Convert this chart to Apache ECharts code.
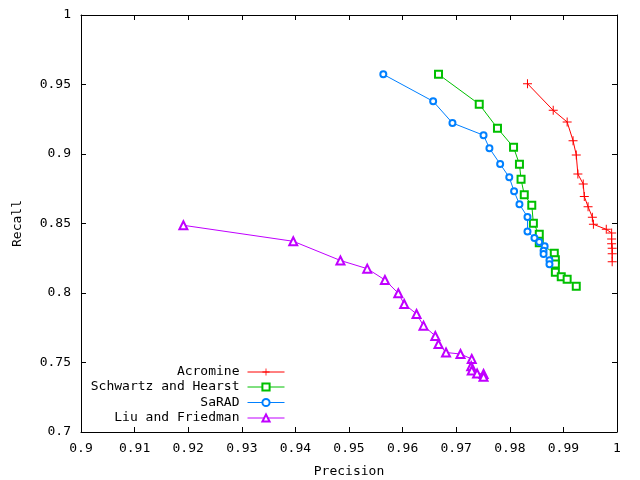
<!DOCTYPE html>
<html>
<head>
<meta charset="utf-8">
<script src="https://cdn.jsdelivr.net/npm/echarts@6/dist/echarts.min.js"></script>
<style>html,body{margin:0;padding:0;background:#fff}#c{width:640px;height:480px}</style>
</head>
<body>
<div id="c"></div>
<script>
const seriesNames = ['Acromine', 'Schwartz and Hearst', 'SaRAD', 'Liu and Friedman'];

const acromineP = [0.9833,0.9881,0.9907,0.9918,0.9924,0.9927,0.9937,0.9939,0.9946,0.9954,0.9956,0.9980,0.9990,0.9990,0.9990,0.9991,0.9991,0.9991];
const acromineR = [0.9506,0.9314,0.9230,0.9096,0.8993,0.8856,0.8784,0.8694,0.8621,0.8545,0.8494,0.8458,0.8432,0.8388,0.8355,0.8322,0.8283,0.8224];

const schwartzP = [0.9667,0.9743,0.9777,0.9807,0.9818,0.9821,0.9827,0.9841,0.9844,0.9855,0.9855,0.9883,0.9885,0.9885,0.9885,0.9896,0.9907,0.9924];
const schwartzR = [0.9573,0.9358,0.9185,0.9048,0.8926,0.8818,0.8707,0.8631,0.8501,0.8422,0.8362,0.8286,0.8240,0.8209,0.8150,0.8117,0.8099,0.8048];

const saradP = [0.9564,0.9657,0.9693,0.9751,0.9762,0.9782,0.9799,0.9808,0.9818,0.9833,0.9833,0.9846,0.9855,0.9865,0.9863,0.9863,0.9874,0.9874];
const saradR = [0.9573,0.9379,0.9223,0.9135,0.9041,0.8928,0.8832,0.8732,0.8638,0.8547,0.8442,0.8396,0.8367,0.8336,0.8304,0.8281,0.8235,0.8206];

const liuP = [0.9191,0.9396,0.9484,0.9534,0.9567,0.9592,0.9603,0.9626,0.9639,0.9661,0.9667,0.9681,0.9708,0.9729,0.9728,0.9729,0.9739,0.9751,0.9751];
const liuR = [0.8487,0.8372,0.8234,0.8175,0.8094,0.7998,0.7921,0.7849,0.7765,0.7691,0.7633,0.7572,0.7561,0.7525,0.7473,0.7442,0.7421,0.7417,0.7398];

const xTicks = {min: 0.9, max: 1.0, interval: 0.01};
const yTicks = {min: 0.7, max: 1.0, interval: 0.05};

const pairs = (xs, ys) => xs.map((x, i) => [x, ys[i]]);
const FONT = 'DejaVu Sans Mono';
const plusPath = 'path://M4,0h1v4h4v1h-4v4h-1v-4h-4v-1h4z';

const colors = ['#ff0000', '#00c000', '#0080ff', '#c000ff'];
const symbols = [plusPath, 'emptyRect', 'emptyCircle', 'emptyTriangle'];
const sizes = [9, 7, 6, 8];
const borders = [0, 1, 1, 1];
const datas = [pairs(acromineP, acromineR), pairs(schwartzP, schwartzR), pairs(saradP, saradR), pairs(liuP, liuR)];

const series = seriesNames.map((n, i) => ({
  name: n, type: 'line', data: datas[i],
  symbol: symbols[i], symbolSize: sizes[i], showAllSymbol: true,
  lineStyle: {width: 1, color: colors[i]},
  itemStyle: {color: colors[i], borderWidth: borders[i], borderColor: colors[i]},
  emphasis: {disabled: true},
  xAxisIndex: 0, yAxisIndex: 0
}));

const legendCenters = [372.5, 387.5, 403, 418.5];
const legends = seriesNames.map((n, i) => ({
  data: [n], orient: 'vertical', align: 'right', right: 355,
  top: legendCenters[i] - 7, padding: 0,
  itemWidth: 37, itemHeight: 9, selectedMode: false,
  lineStyle: {width: 1},
  itemStyle: {borderWidth: borders[i]},
  textStyle: {fontFamily: FONT, fontSize: 13, color: '#000', padding: [0, 3, 0, 0]}
}));

const axLine = {show: true, onZero: false, lineStyle: {color: '#000', width: 1}};
const tick = {show: true, inside: true, length: 5, lineStyle: {color: '#000'}};

const option = {
  animation: false,
  backgroundColor: '#fff',
  grid: {left: 81, right: 23, top: 15, bottom: 48, containLabel: false, outerBoundsMode: 'none'},
  legend: legends,
  xAxis: [
    {type: 'value', min: xTicks.min, max: xTicks.max, interval: xTicks.interval, position: 'bottom',
     name: 'Precision', nameLocation: 'middle', nameGap: 33,
     nameTextStyle: {fontFamily: FONT, fontSize: 13, color: '#000'},
     axisLine: axLine, axisTick: tick, splitLine: {show: false},
     axisLabel: {fontFamily: FONT, fontSize: 13, color: '#000', margin: 10}},
    {type: 'value', min: xTicks.min, max: xTicks.max, interval: xTicks.interval, position: 'top',
     axisLine: axLine, axisTick: tick, splitLine: {show: false}, axisLabel: {show: false}}
  ],
  yAxis: [
    {type: 'value', min: yTicks.min, max: yTicks.max, interval: yTicks.interval, position: 'left',
     name: 'Recall', nameLocation: 'middle', nameGap: 57, nameRotate: 90,
     nameTextStyle: {fontFamily: FONT, fontSize: 13, color: '#000'},
     axisLine: axLine, axisTick: tick, splitLine: {show: false},
     axisLabel: {fontFamily: FONT, fontSize: 13, color: '#000', margin: 10}},
    {type: 'value', min: yTicks.min, max: yTicks.max, interval: yTicks.interval, position: 'right',
     axisLine: axLine, axisTick: tick, splitLine: {show: false}, axisLabel: {show: false}}
  ],
  series: series
};

const chart = echarts.init(document.getElementById('c'), null, {renderer: 'canvas'});
chart.setOption(option);
</script>
</body>
</html>
